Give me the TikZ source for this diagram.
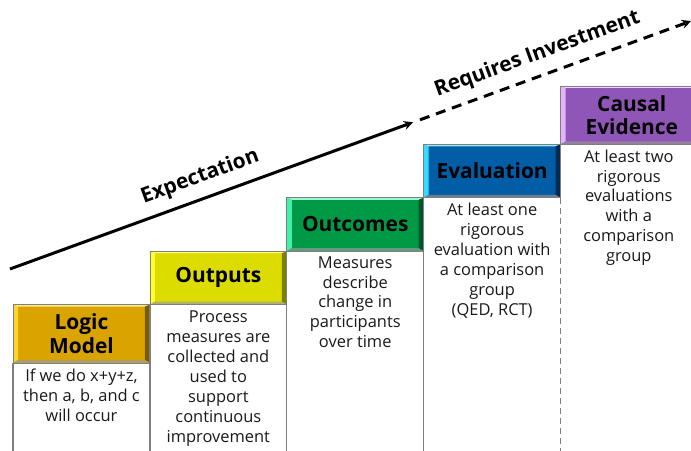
\documentclass[tikz,border=0pt]{standalone}
\usepackage{fontspec}
\setmainfont{Open Sans}
\usepackage{xcolor}
\usepackage{tikz}
\usetikzlibrary{positioning}
\tikzset{>=stealth}

\definecolor{lmgold}{HTML}{D9A300}
\definecolor{lmgoldlt}{HTML}{FFD527}
\definecolor{lmgolddk}{HTML}{7A5C00}
\definecolor{outyellow}{HTML}{DCDC00}
\definecolor{outyellowlt}{HTML}{FFFF2E}
\definecolor{outyellowdk}{HTML}{7E7E00}
\definecolor{outcgreen}{HTML}{009A47}
\definecolor{outcgreenlt}{HTML}{3EF2A6}
\definecolor{outcgreendk}{HTML}{00552A}
\definecolor{evalblue}{HTML}{005DA6}
\definecolor{evalbluelt}{HTML}{33DDFA}
\definecolor{evalbluedk}{HTML}{002A4F}
\definecolor{causalpurple}{HTML}{8F56B7}
\definecolor{causalpurplelt}{HTML}{E6B2FF}
\definecolor{causalpurpledk}{HTML}{4D2A66}
\definecolor{framegray}{HTML}{7F7F7F}

\tikzset{
  steptitle/.style={font=\bfseries\fontsize{21}{24}\selectfont, align=center,
    inner sep=0pt, minimum width=136.5bp, minimum height=53bp},
  stepnote/.style={font=\fontsize{16.5}{20}\selectfont, align=center,
    text=black!90, inner sep=0pt},
  colframe/.style={draw=framegray, line width=1.2bp},
  trend/.style={line width=3bp, ->},
  trendlabel/.style={sloped, above=6bp, font=\bfseries\fontsize{21}{24}\selectfont},
}

\begin{document}
\begin{tikzpicture}[x=1bp,y=1bp]
    \useasboundingbox (0,0) rectangle (691,451);
    \coordinate (floor) at (0,-5);
    % the steps
    \node[steptitle, fill=lmgold, minimum height=58bp, anchor=south west] (lm) at (13,88) {Logic\\Model};
    \node[steptitle, fill=outyellow, above right=0bp and 0bp of lm] (out) {Outputs};
    \node[steptitle, fill=outcgreen, above right=0bp and 0bp of out] (outc) {Outcomes};
    \node[steptitle, fill=evalblue, above right=0bp and 0bp of outc] (eval) {Evaluation};
    \node[steptitle, fill=causalpurple, minimum height=58bp, minimum width=142bp, above right=0bp and 0bp of eval] (causal) {Causal\\Evidence};
    % bevelled edges
    \foreach \n/\lc/\dc in {lm/lmgoldlt/lmgolddk, out/outyellowlt/outyellowdk, outc/outcgreenlt/outcgreendk,
        eval/evalbluelt/evalbluedk, causal/causalpurplelt/causalpurpledk}{
      \fill[\lc] (\n.north west) -- ([shift={(5,-2)}]\n.north west) -- ([shift={(5,3)}]\n.south west) -- (\n.south west) -- cycle;
      \fill[\lc!55!white] (\n.north west) -- ([shift={(5,-2)}]\n.north west) -- ([shift={(-5,-2)}]\n.north east) -- (\n.north east) -- cycle;
      \fill[\dc] (\n.north east) -- ([shift={(-5,-2)}]\n.north east) -- ([shift={(-5,3)}]\n.south east) -- (\n.south east) -- cycle;
      \fill[\dc!60!white] (\n.south west) -- ([shift={(5,3)}]\n.south west) -- ([shift={(-5,3)}]\n.south east) -- (\n.south east) -- cycle;
      \draw[framegray, line width=0.8bp] (\n.south west) rectangle (\n.north east);
    }
    % columns under the steps
    \foreach \n in {lm,out,outc,eval}
      \draw[colframe] (\n.south west) -- (\n.south west |- floor);
    \draw[colframe, dash pattern=on 6bp off 4bp] (eval.south east) -- (eval.south east |- floor);
    % texts under the steps
    \node[stepnote, below=6bp of lm] (lmnote) {If we do x+y+z,\\then a, b, and c\\will occur};
    \node[stepnote, below=6bp of out] (outnote) {Process\\measures are\\collected and\\used to\\support\\continuous\\improvement};
    \node[stepnote, below=5bp of outc] (outcnote) {Measures\\describe\\change in\\participants\\over time};
    \node[stepnote, below=5bp of eval] (evalnote) {At least one\\rigorous\\evaluation with\\a comparison\\group\\(QED, RCT)};
    \node[stepnote, below=5bp of causal.south, xshift=-3bp] (causalnote) {At least two\\rigorous\\evaluations\\with a\\comparison\\group};
    % the trend line
    \coordinate (e0) at (10,182);
    \coordinate (e1) at (413,328.7);
    \coordinate (r0) at (420,331.2);
    \coordinate (r1) at (691,429.9);
    \draw[trend] (e0) -- node[pos=0.49, trendlabel] (expect) {Expectation} (e1);
    \draw[trend, dash pattern=on 10bp off 7bp] (r0) -- node[pos=0.46, trendlabel] (invest) {Requires Investment} (r1);
\end{tikzpicture}
\end{document}
